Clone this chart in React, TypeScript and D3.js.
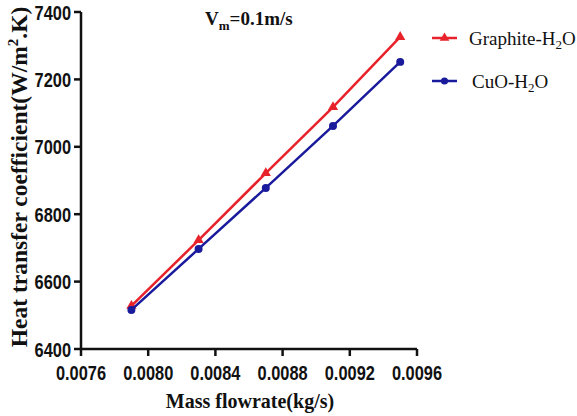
import React from 'react'
import * as d3 from 'd3'

const flowrates = [0.0079, 0.0083, 0.0087, 0.0091, 0.0095]
const graphite = [6528, 6723, 6922, 7118, 7326]
const cuo = [6516, 6697, 6878, 7062, 7252]
const xTicks = [0.0076, 0.008, 0.0084, 0.0088, 0.0092, 0.0096]
const yTicks = [6400, 6600, 6800, 7000, 7200, 7400]

const series = [
  { name: 'Graphite-H', values: graphite, color: '#e8222a', shape: d3.symbolTriangle },
  { name: 'CuO-H', values: cuo, color: '#1a1a9c', shape: d3.symbolCircle },
]

const W = 577
const H = 416

export default function App () {
  const x = d3.scaleLinear().domain([0.0076, 0.0096]).range([81, 417])
  const y = d3.scaleLinear().domain([6400, 7400]).range([349, 12])
  const line = d3.line<number>()
    .x((d, i) => x(flowrates[i]))
    .y(d => y(d))

  const tickFont = 'Liberation Sans, Arial, sans-serif'
  const serif = 'Liberation Serif, Times New Roman, serif'

  return (
    <svg width={W} height={H} style={{ position: 'absolute', left: 0, top: 0, background: '#fff' }}>
      {/* axes */}
      <line x1={x.range()[0]} x2={x.range()[1]} y1={349} y2={349} stroke="#111" strokeWidth={2.5} />
      <line x1={81} x2={81} y1={y.range()[1]} y2={350} stroke="#111" strokeWidth={2.5} />
      {xTicks.map(t => (
        <g key={t} transform={`translate(${x(t)},349)`}>
          <line y2={7} stroke="#111" strokeWidth={2.5} />
          <text transform="translate(0,31) scale(0.82,1)" textAnchor="middle" fontFamily={tickFont}
            fontSize={20} fontWeight="bold" fill="#111">{d3.format('.4f')(t)}</text>
        </g>
      ))}
      {yTicks.map(t => (
        <g key={t} transform={`translate(81,${y(t)})`}>
          <line x2={-7} stroke="#111" strokeWidth={2.5} />
          <text transform="translate(-10,7.5) scale(0.82,1)" textAnchor="end" fontFamily={tickFont}
            fontSize={20} fontWeight="bold" fill="#111">{t}</text>
        </g>
      ))}

      {/* series */}
      {series.map(s => (
        <g key={s.name}>
          <path d={line(s.values) || ''} fill="none" stroke={s.color} strokeWidth={2.5} />
          {s.values.map((v, i) => (
            <path key={i} transform={`translate(${x(flowrates[i])},${y(v)})`}
              d={d3.symbol().type(s.shape).size(s.shape === d3.symbolCircle ? 50 : 45)() || ''}
              fill={s.color} />
          ))}
        </g>
      ))}

      {/* legend */}
      {series.map((s, i) => (
        <g key={s.name} transform={`translate(432,${38 + i * 43})`}>
          <line x1={0} x2={25} stroke={s.color} strokeWidth={2.5} />
          <path transform="translate(12.5,0)"
            d={d3.symbol().type(s.shape).size(40)() || ''} fill={s.color} />
          <text x={i === 0 ? 37 : 40} y={6.5} fontFamily={serif} fontSize={19} fill="#111">
            {s.name}<tspan fontSize={13} dy={4}>2</tspan><tspan dy={-4}>O</tspan>
          </text>
        </g>
      ))}

      {/* title */}
      <text x={205} y={25} fontFamily={serif} fontSize={19} fontWeight="bold" fill="#111">
        V<tspan fontSize={13} dy={5}>m</tspan><tspan dy={-5}>=0.1m/s</tspan>
      </text>

      {/* axis labels */}
      <text x={250} y={408} textAnchor="middle" fontFamily={serif} fontSize={20} fontWeight="bold" fill="#111">
        Mass flowrate(kg/s)
      </text>
      <text transform="translate(27,177) rotate(-90)" textAnchor="middle" fontFamily={serif} fontSize={23.5}
        fontWeight="bold" fill="#111">
        Heat transfer coefficient(W/m<tspan fontSize={15} dy={-9}>2</tspan><tspan dy={9}>.K)</tspan>
      </text>
    </svg>
  )
}
